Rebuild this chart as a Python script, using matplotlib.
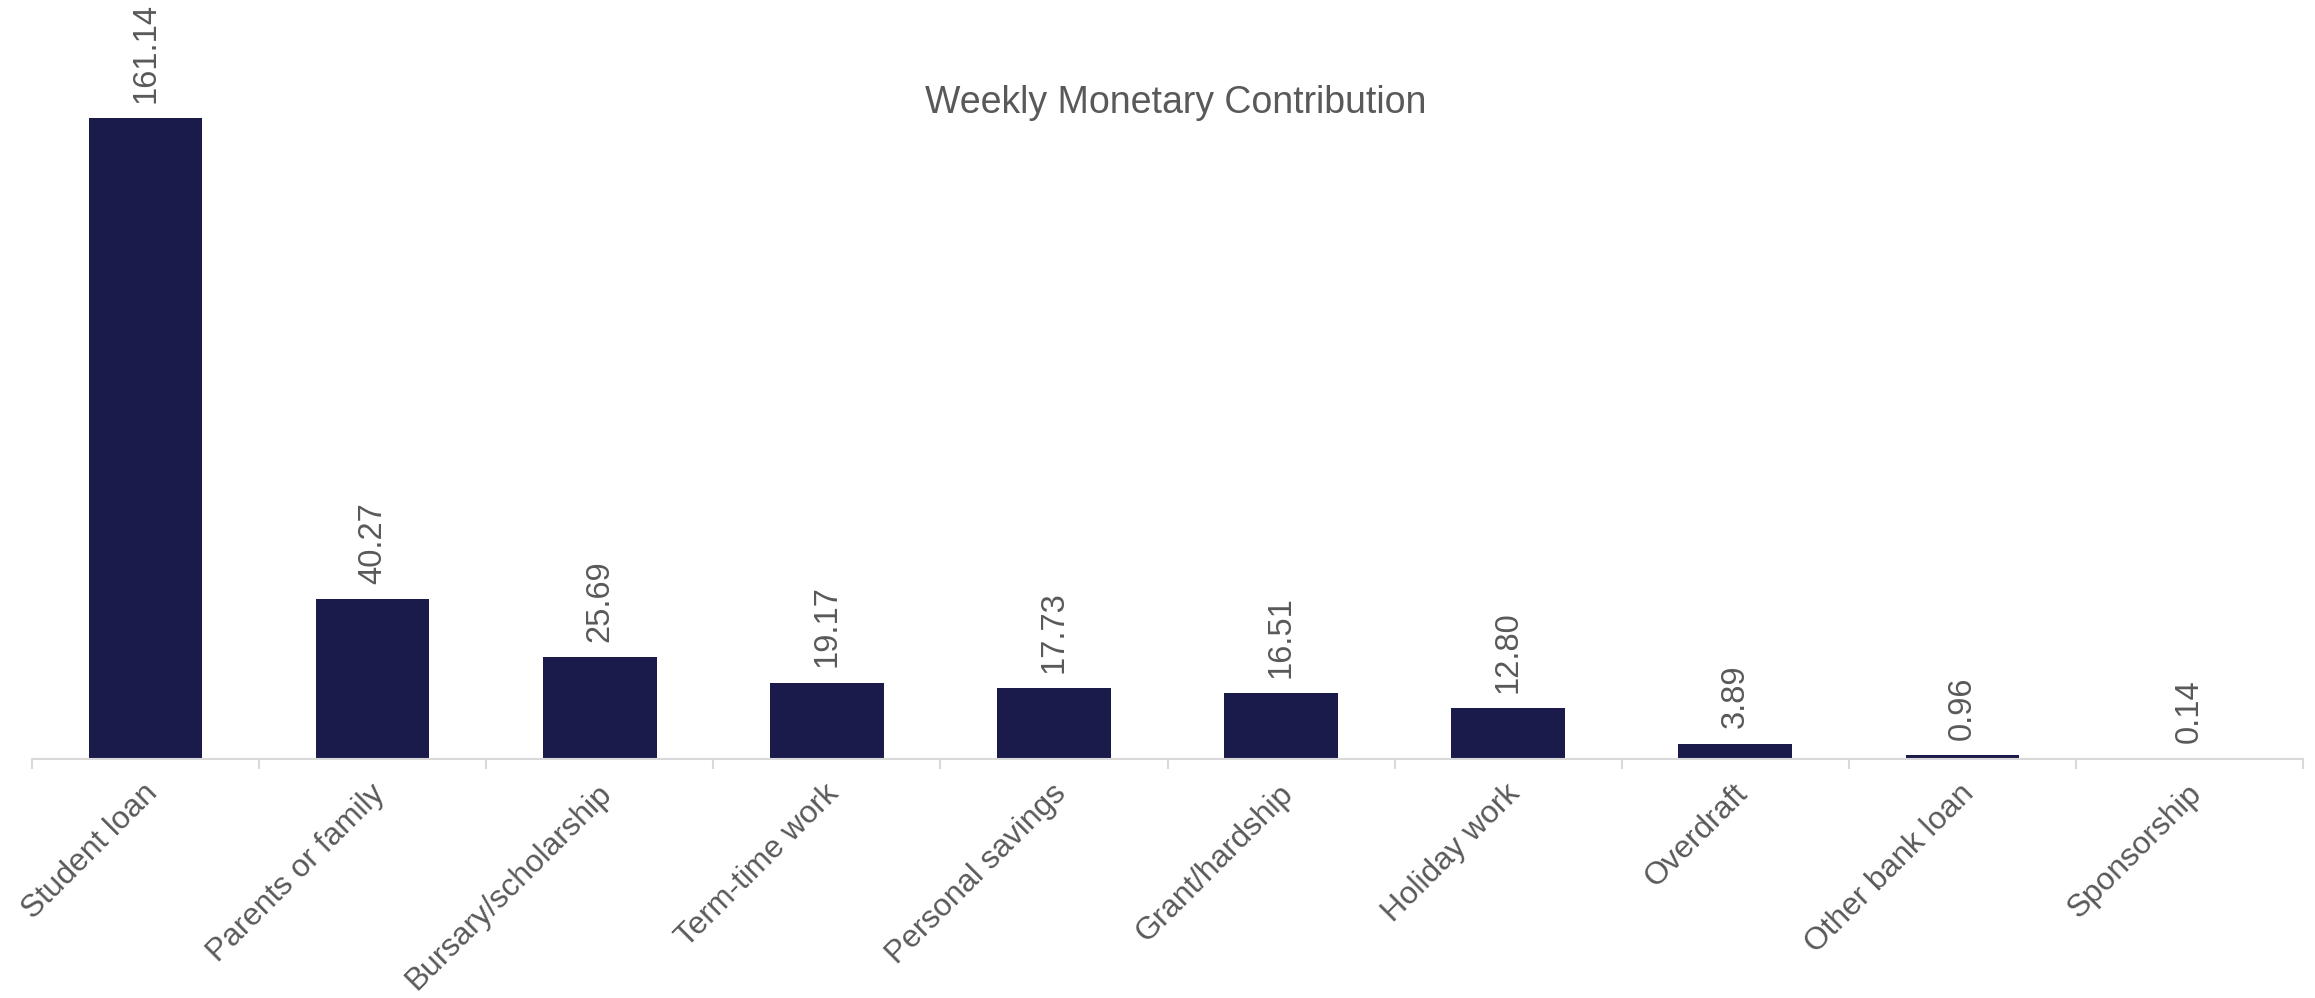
import numpy as np
import matplotlib.pyplot as plt
import matplotlib.transforms as mtransforms
from matplotlib.ticker import FixedLocator

# data
categories = ['Student loan', 'Parents or family', 'Bursary/scholarship',
              'Term-time work', 'Personal savings', 'Grant/hardship',
              'Holiday work', 'Overdraft', 'Other bank loan', 'Sponsorship']
values = [161.14, 40.27, 25.69, 19.17, 17.73, 16.51, 12.80, 3.89, 0.96, 0.14]

plt.rcParams['font.family'] = ['Liberation Sans', 'DejaVu Sans']
text_color = '#595959'
bar_color = '#1a1a4b'
axis_color = '#d9d9d9'

fig = plt.figure(figsize=(23.15, 9.98), dpi=100)
ax = fig.add_axes([32 / 2315, 1 - 759 / 998, (2303 - 32) / 2315, 759 / 998])

x = np.arange(len(categories))
bars = ax.bar(x, values, width=0.5, color=bar_color)

# labels above bars
for xi, v in zip(x, values):
    ax.annotate(f'{v:.2f}', (xi, v), xytext=(0, 11), textcoords='offset points',
                rotation=90, ha='center', va='bottom', fontsize=23.5, color=text_color)

ax.set_xlim(-0.5, len(categories) - 0.5)
ax.set_ylim(0, 190.8)

for s in ['top', 'right', 'left']:
    ax.spines[s].set_visible(False)
ax.spines['bottom'].set_color(axis_color)
ax.spines['bottom'].set_linewidth(1.5)
ax.set_yticks([])

ax.set_xticks(x)
ax.set_xticklabels(categories, rotation=45, ha='right', rotation_mode='anchor',
                   fontsize=22.8, color=text_color)
ax.tick_params(axis='x', which='major', length=0, pad=14)
shift = mtransforms.ScaledTranslation(-3 / 100, 0, fig.dpi_scale_trans)
for lbl in ax.get_xticklabels():
    lbl.set_transform(lbl.get_transform() + shift)
ax.xaxis.set_minor_locator(FixedLocator(np.arange(-0.5, len(categories), 1.0)))
ax.tick_params(axis='x', which='minor', length=7, width=1.5, color=axis_color)

fig.text(1176 / 2315, 1 - 103 / 998, 'Weekly Monetary Contribution',
         ha='center', va='center', fontsize=27, color=text_color)

fig.savefig('out.png', dpi=100)
